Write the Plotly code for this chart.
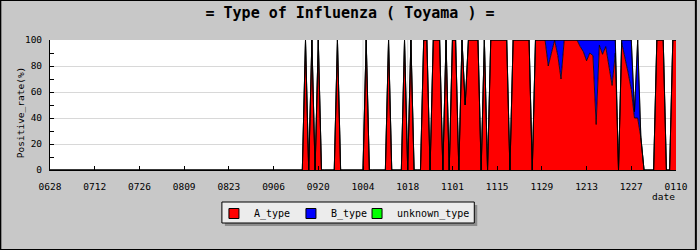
import plotly.graph_objects as go
import pandas as pd

# ---- data (daily positive rate, %) ----
start_date = "2023-06-28"
end_date = "2024-01-10"

A_type = [
    0, 0, 0, 0, 0, 0, 0, 0, 0, 0, 0, 0, 0, 0,
    0, 0, 0, 0, 0, 0, 0, 0, 0, 0, 0, 0, 0, 0,
    0, 0, 0, 0, 0, 0, 0, 0, 0, 0, 0, 0, 0, 0,
    0, 0, 0, 0, 0, 0, 0, 0, 0, 0, 0, 0, 0, 0,
    0, 0, 0, 0, 0, 0, 0, 0, 0, 0, 0, 0, 0, 0,
    0, 0, 0, 0, 0, 0, 0, 0, 0, 0, 100, 0, 100, 0,
    100, 0, 0, 0, 0, 0, 100, 0, 0, 0, 0, 0, 0, 0,
    0, 100, 0, 0, 0, 0, 0, 0, 100, 0, 0, 0, 0, 100,
    0, 100, 0, 0, 0, 100, 100, 0, 100, 100, 100, 0, 100, 0,
    100, 100, 0, 100, 50, 100, 100, 100, 100, 0, 100, 0, 100, 100,
    100, 100, 100, 100, 0, 100, 100, 100, 100, 100, 100, 0, 100, 100,
    100, 100, 80, 90, 100, 88, 70, 100, 100, 100, 100, 100, 95, 91,
    84, 90, 88, 35, 96, 89, 95, 80, 65, 90, 0, 98, 87, 75,
    62, 40, 40, 25, 0, 0, 0, 0, 100, 100, 100, 0, 0, 100,
    100,
]

B_type = [
    0, 0, 0, 0, 0, 0, 0, 0, 0, 0, 0, 0, 0, 0,
    0, 0, 0, 0, 0, 0, 0, 0, 0, 0, 0, 0, 0, 0,
    0, 0, 0, 0, 0, 0, 0, 0, 0, 0, 0, 0, 0, 0,
    0, 0, 0, 0, 0, 0, 0, 0, 0, 0, 0, 0, 0, 0,
    0, 0, 0, 0, 0, 0, 0, 0, 0, 0, 0, 0, 0, 0,
    0, 0, 0, 0, 0, 0, 0, 0, 0, 0, 0, 0, 0, 0,
    0, 0, 0, 0, 0, 0, 0, 0, 0, 0, 0, 0, 0, 0,
    0, 0, 0, 0, 0, 0, 0, 0, 0, 0, 0, 0, 0, 0,
    0, 0, 0, 0, 0, 0, 0, 0, 0, 0, 0, 0, 0, 0,
    0, 0, 0, 0, 0, 0, 0, 0, 0, 0, 0, 0, 0, 0,
    0, 0, 0, 0, 0, 0, 0, 0, 0, 0, 0, 0, 0, 0,
    0, 0, 20, 10, 0, 12, 30, 0, 0, 0, 0, 0, 5, 9,
    16, 10, 12, 65, 4, 11, 5, 20, 35, 10, 0, 2, 13, 25,
    38, 5, 60, 0, 0, 0, 0, 0, 0, 0, 0, 0, 0, 0,
    0,
]

unknown_type = [0] * 197

tick_labels = ["0628", "0712", "0726", "0809", "0823", "0906", "0920", "1004",
               "1018", "1101", "1115", "1129", "1213", "1227", "0110"]
grid_dates = ["2023-10-04", "2023-10-18"]

series_names = ["A_type", "B_type", "unknown_type"]
series_colors = ["#ff0000", "#0000ff", "#00ff00"]
legend_ids = ["legend", "legend", "legend2"]

dates = pd.date_range(start_date, end_date, freq="D")
tick_dates = dates[::14]

FONT = "DejaVu Sans Mono"

fig = go.Figure()
for name, vals, col in zip(series_names, [A_type, B_type, unknown_type], series_colors):
    fig.add_trace(go.Scatter(
        x=dates, y=vals, stackgroup="one", mode="lines",
        line=dict(color="black", width=0.8, shape="linear"),
        fillcolor=col, name=name, showlegend=False, hoverinfo="skip",
    ))
# legend entries
for name, col, lg in zip(series_names, series_colors, legend_ids):
    fig.add_trace(go.Scatter(
        x=[None], y=[None], mode="markers", name=name, legend=lg,
        marker=dict(symbol="square", size=10, color=col, line=dict(color="black", width=1)),
    ))

W, H = 700, 250
L, R, T, B = 50, 20, 40, 80
pw, ph = W - L - R, H - T - B

def px(x):
    return (x - L) / pw

def py(y):
    return (H - B - y) / ph

shapes = [
    # outer frame
    dict(type="rect", xref="paper", yref="paper", x0=px(0), x1=px(W), y0=py(H), y1=py(0),
         line=dict(color="black", width=2), layer="above"),
    # legend shadow and box
    dict(type="rect", xref="paper", yref="paper", x0=px(226), x1=px(480), y0=py(226), y1=py(205),
         line=dict(width=0), fillcolor="#8c8c8c", layer="above"),
    dict(type="rect", xref="paper", yref="paper", x0=px(223), x1=px(477), y0=py(223), y1=py(202),
         line=dict(width=1, color="black"), fillcolor="#ececec", layer="above"),
]
for gd in grid_dates:
    shapes.append(dict(type="line", xref="x", yref="paper", x0=gd, x1=gd, y0=0, y1=1,
                       line=dict(color="#d8d8d8", width=1), layer="below"))

legend_common = dict(orientation="h", traceorder="normal", yanchor="top", y=py(199),
                     xanchor="left", bgcolor="rgba(0,0,0,0)", borderwidth=0,
                     font=dict(family=FONT, size=10, color="black"))

fig.update_layout(
    width=W, height=H,
    margin=dict(l=L, r=R, t=T, b=B),
    paper_bgcolor="#c8c8c8",
    plot_bgcolor="#ffffff",
    font=dict(family=FONT, size=10, color="black"),
    title=dict(text="<b>= Type of Influenza ( Toyama ) =</b>", x=0.5, xanchor="center",
               y=1 - 13 / H, yanchor="middle",
               font=dict(family=FONT, size=15, color="black")),
    showlegend=True,
    legend=dict(legend_common, x=px(215), entrywidth=32, entrywidthmode="pixels"),
    legend2=dict(legend_common, x=px(359)),
    xaxis=dict(
        type="date", range=[dates[0], dates[-1]],
        tickvals=list(tick_dates), ticktext=tick_labels,
        ticks="inside", ticklen=4, tickcolor="black",
        showline=True, linecolor="black", linewidth=1,
        showgrid=False, zeroline=False, ticklabelstandoff=8,
        tickfont=dict(family=FONT, size=9.5, color="black"),
    ),
    yaxis=dict(
        range=[0, 100], dtick=20, tick0=0,
        ticks="inside", ticklen=4, tickcolor="black",
        showline=True, linecolor="black", linewidth=1,
        showgrid=True, gridcolor="#d8d8d8", gridwidth=1, zeroline=False,
        ticklabelstandoff=5,
        tickfont=dict(family=FONT, size=9.5, color="black"),
        minor=dict(dtick=10, ticks="inside", ticklen=4, tickcolor="black", showgrid=False),
    ),
    annotations=[
        dict(text="date", xref="paper", yref="paper", x=px(667), y=py(196),
             xanchor="center", yanchor="middle", showarrow=False,
             font=dict(family=FONT, size=9.5, color="black")),
        dict(text="Positive_rate(%)", xref="paper", yref="paper", x=px(20), y=py(112),
             xanchor="center", yanchor="middle", textangle=-90, showarrow=False,
             font=dict(family=FONT, size=9.5, color="black")),
    ],
    shapes=shapes,
)

fig.write_html("out.html")
